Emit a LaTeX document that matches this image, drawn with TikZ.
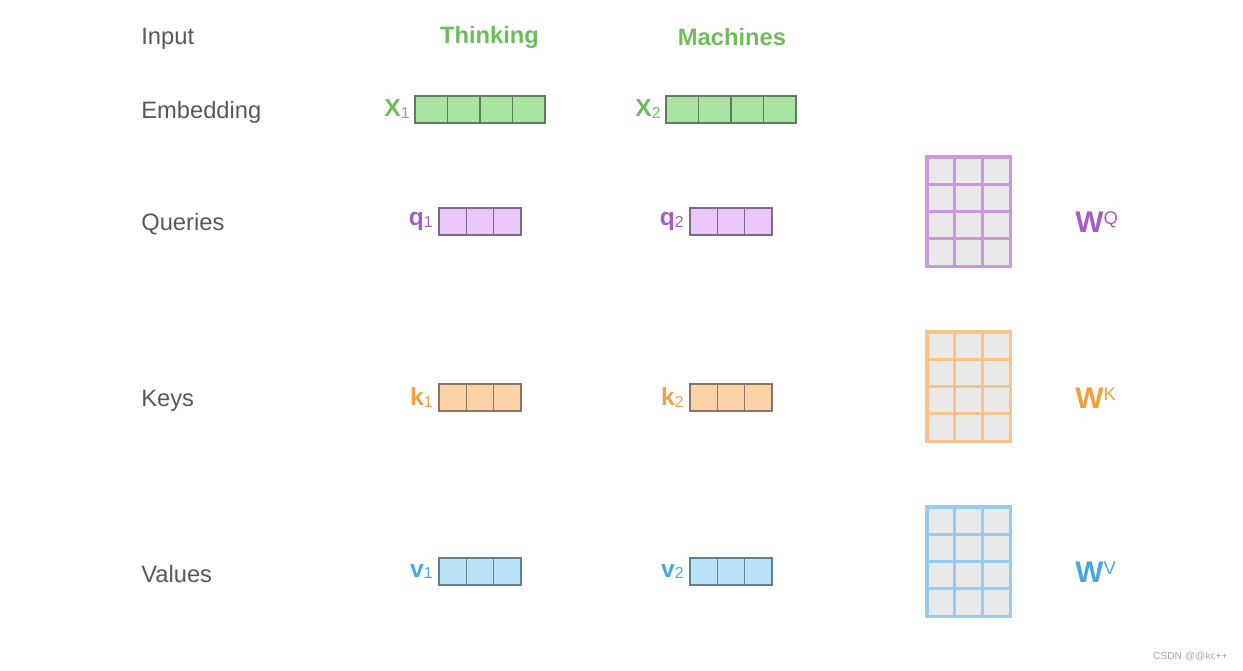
\documentclass[tikz,border=0pt]{standalone}
\usepackage{fontspec}
\setmainfont{Liberation Sans}
\usetikzlibrary{positioning}
\definecolor{txtgray}{HTML}{55585E}
\definecolor{embgreen}{HTML}{6DBE5B}
\definecolor{embfill}{HTML}{A9E5A0}
\definecolor{embline}{HTML}{5E7D5C}
\definecolor{qpurple}{HTML}{A65BC9}
\definecolor{qfill}{HTML}{E9C8F9}
\definecolor{qline}{HTML}{7D6A86}
\definecolor{korange}{HTML}{F2A03C}
\definecolor{kfill}{HTML}{FDD3A6}
\definecolor{kline}{HTML}{8A7466}
\definecolor{vblue}{HTML}{4AA6DD}
\definecolor{vfill}{HTML}{B9E2F9}
\definecolor{vline}{HTML}{61808F}
\definecolor{cellgray}{HTML}{E9E9EA}
\definecolor{wqline}{HTML}{CB97E2}
\definecolor{wkline}{HTML}{F9C28A}
\definecolor{wvline}{HTML}{98CBF1}
\newcommand{\vidx}[1]{{\mdseries\raisebox{-0.08em}{\fontsize{9}{9}\selectfont #1}}}
\newcommand{\widx}[1]{{\mdseries\raisebox{0.25em}{\fontsize{10.5}{10.5}\selectfont #1}}}

\begin{document}
\begin{tikzpicture}[x=0.02cm, y=-0.02cm,
    lab/.style = {anchor=west, inner sep=0pt, text=txtgray, font=\fontsize{13.5}{16}\selectfont},
    head/.style = {text=embgreen, font=\fontsize{13.5}{16}\selectfont\bfseries},
    cell/.style = {draw, line width=0.8pt, minimum height=0.54cm, inner sep=0pt, outer sep=0pt},
    ecell/.style = {cell, fill=embfill, draw=embline, minimum width=0.65cm},
    qcell/.style = {cell, fill=qfill, draw=qline, minimum width=0.546cm},
    kcell/.style = {cell, fill=kfill, draw=kline, minimum width=0.546cm},
    vcell/.style = {cell, fill=vfill, draw=vline, minimum width=0.546cm},
    mcell/.style = {fill=cellgray, line width=1.8pt, minimum width=0.554cm, minimum height=0.546cm, inner sep=0pt, outer sep=0pt},
    vlab/.style = {font=\fontsize{14}{16}\selectfont\bfseries, inner sep=0pt},
    wlab/.style = {font=\fontsize{17}{20}\selectfont\bfseries, anchor=west, inner sep=0pt}]
    \useasboundingbox (0,0) rectangle (1243,671);

    % Row labels
    \node[lab] (input) at (141, 39) {Input};
    \node[lab] (embed) at (141, 112) {Embedding};
    \node[lab] (queries) at (141, 224) {Queries};
    \node[lab] (keys) at (141, 401) {Keys};
    \node[lab] (values) at (141, 574) {Values};

    \node[head] (thinking) at (489.5, 37) {Thinking};
    \node[head] (machines) at (732, 37) {Machines};

    % Embeddings
    \foreach \i in {1,...,4} {
      \node[ecell] (x1-\i) at ({415+32.5*(\i-0.5)}, 109.5) {};
      \node[ecell] (x2-\i) at ({666+32.5*(\i-0.5)}, 109.5) {};
    }
    \node[vlab, text=embgreen, left=0.1cm of x1-1] (x1) {X\vidx{1}};
    \node[vlab, text=embgreen, left=0.1cm of x2-1] (x2) {X\vidx{2}};

    % Queries, keys, values
    \foreach \i in {1,...,3} {
      \node[qcell] (q1-\i) at ({439+27.3*(\i-0.5)}, 221.5) {};
      \node[qcell] (q2-\i) at ({690+27.3*(\i-0.5)}, 221.5) {};
      \node[kcell] (k1-\i) at ({439+27.3*(\i-0.5)}, 397.5) {};
      \node[kcell] (k2-\i) at ({690+27.3*(\i-0.5)}, 397.5) {};
      \node[vcell] (v1-\i) at ({439+27.3*(\i-0.5)}, 571.5) {};
      \node[vcell] (v2-\i) at ({690+27.3*(\i-0.5)}, 571.5) {};
    }
    \node[vlab, text=qpurple, left=0.12cm of q1-1] (q1) {q\vidx{1}};
    \node[vlab, text=qpurple, left=0.12cm of q2-1] (q2) {q\vidx{2}};
    \node[vlab, text=korange, left=0.12cm of k1-1] (k1) {k\vidx{1}};
    \node[vlab, text=korange, left=0.12cm of k2-1] (k2) {k\vidx{2}};
    \node[vlab, text=vblue, left=0.12cm of v1-1] (v1) {v\vidx{1}};
    \node[vlab, text=vblue, left=0.12cm of v2-1] (v2) {v\vidx{2}};

    % Weight matrices
    \foreach \r in {1,...,4} {
      \foreach \c in {1,...,3} {
        \node[mcell, draw=wqline] (wq-\r-\c) at ({927+27.7*(\c-0.5)}, {157+27.3*(\r-0.5)}) {};
        \node[mcell, draw=wkline] (wk-\r-\c) at ({927+27.7*(\c-0.5)}, {332+27.3*(\r-0.5)}) {};
        \node[mcell, draw=wvline] (wv-\r-\c) at ({927+27.7*(\c-0.5)}, {507+27.3*(\r-0.5)}) {};
      }
    }
    \node[wlab, text=qpurple] (wq) at (1075, 222) {W\widx{Q}};
    \node[wlab, text=korange] (wk) at (1075, 398) {W\widx{K}};
    \node[wlab, text=vblue] (wv) at (1075, 572) {W\widx{V}};

    \node[anchor=east, inner sep=0pt, text=gray!70, font=\fontsize{5.8}{7}\selectfont] (mark) at (1228, 657) {CSDN @@kc++};
\end{tikzpicture}
\end{document}
